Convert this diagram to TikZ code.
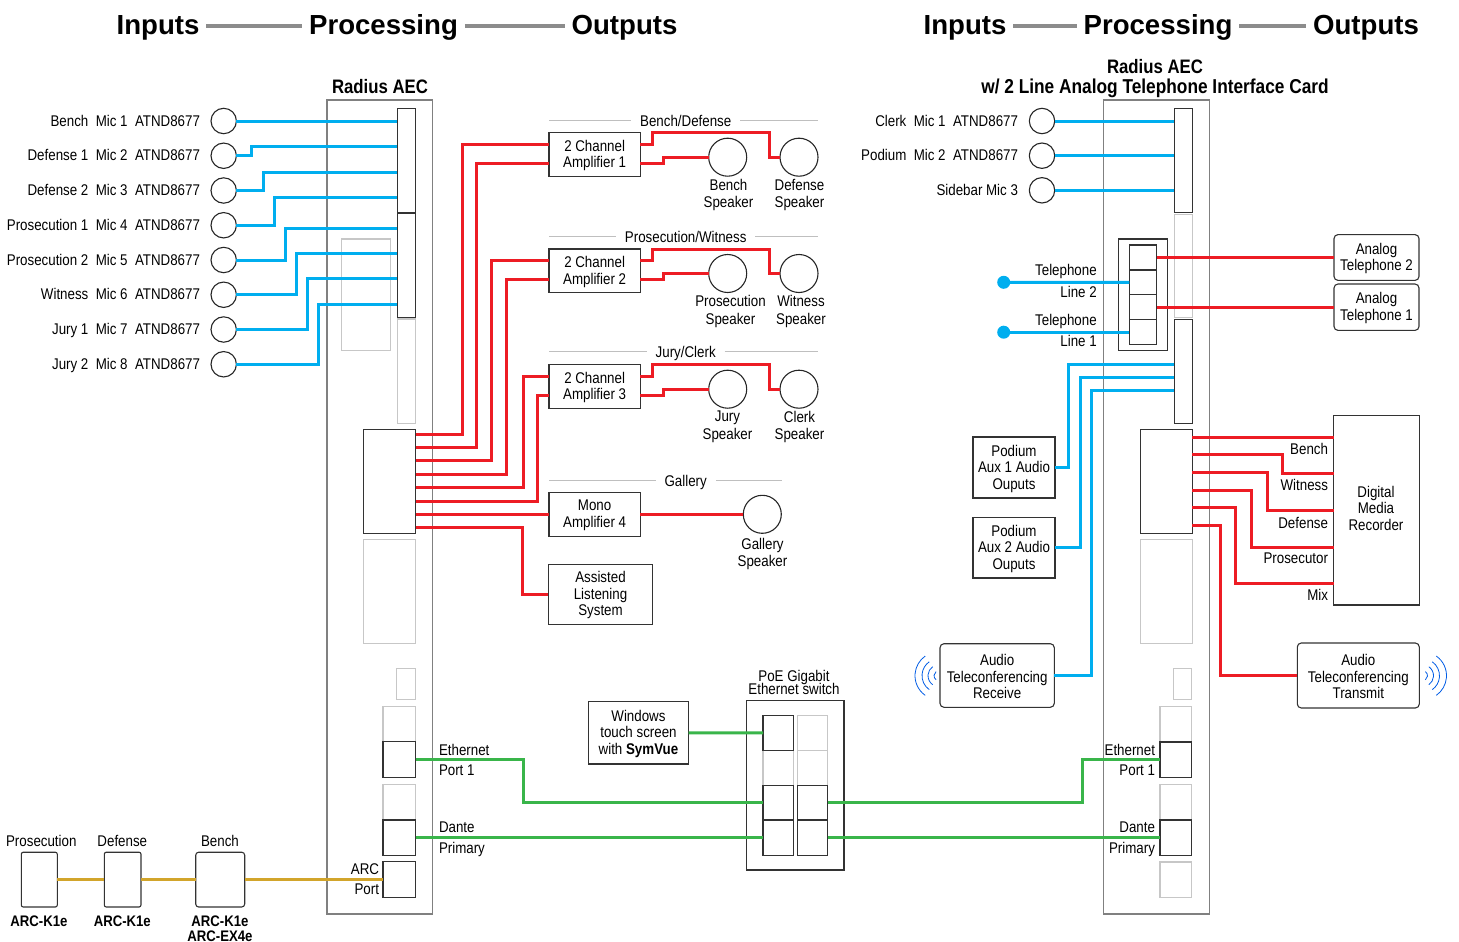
\documentclass[tikz,border=0pt]{standalone}
\usepackage{fontspec}
\setmainfont{Liberation Sans}[FakeStretch=0.86]
\newfontfamily\headfont{Liberation Sans}
\usetikzlibrary{fit}
\definecolor{wireblue}{HTML}{00AEEF}
\definecolor{wirered}{HTML}{ED1C24}
\definecolor{wiregreen}{HTML}{39B54A}
\definecolor{wiregold}{HTML}{D2A52B}
\tikzset{
	bluewire/.style={draw=wireblue,line width=3pt},
	redwire/.style={draw=wirered,line width=3pt},
	greenwire/.style={draw=wiregreen,line width=3pt},
	goldwire/.style={draw=wiregold,line width=3pt},
	blackbox/.style={draw=black!80,line width=1.1pt},
	graybox/.style={draw=black!22,line width=1.2pt},
	chassis/.style={draw=black!50,line width=1.4pt},
	roundbox/.style={blackbox,rounded corners=4pt},
	stack/.style={align=center,yshift=-1pt},
	micword/.style={anchor=east,text height=11pt,text depth=3pt},
	mic/.style={circle,draw=black!85,line width=1.1pt,minimum size=25.4pt},
	speaker/.style={circle,draw=black!85,line width=1.1pt,minimum size=38pt},
	speakerlabel/.style={align=center,font=\fontsize{15.5}{17.5}\selectfont},
	boldlabel/.style={align=center,font=\fontsize{15.3}{15.5}\selectfont\bfseries},
	unitlabel/.style={align=center,font=\fontsize{19.5}{20}\selectfont\bfseries},
	headword/.style={font=\fontsize{27.6}{28}\selectfont\headfont\bfseries,text height=20pt,text depth=3pt,outer sep=7pt},
	headline/.style={draw=black!45,line width=3.2pt},
	grouptitle/.style={text height=12pt,text depth=0pt,outer sep=9pt},
	grouprule/.style={draw=black!25,line width=1pt},
	wave/.style={draw=blue!60!cyan!90!black,line width=.8pt},
}
\begin{document}
\begin{tikzpicture}[x=1pt,y=-1pt,every node/.style={font=\fontsize{15.5}{16.5}\selectfont,inner sep=0pt,outer sep=0pt}]
	\useasboundingbox (0,0) rectangle (1459,942);
	% headings
	\node[headword] (hInL) at (158,26) {Inputs};
	\node[headword] (hPrL) at (383.5,26) {Processing};
	\node[headword] (hOutL) at (624.5,26) {Outputs};
	\node[headword] (hInR) at (965,26) {Inputs};
	\node[headword] (hPrR) at (1158,26) {Processing};
	\node[headword] (hOutR) at (1366,26) {Outputs};
	\draw[headline] (hInL) -- (hPrL);
	\draw[headline] (hPrL) -- (hOutL);
	\draw[headline] (hInR) -- (hPrR);
	\draw[headline] (hPrR) -- (hOutR);
	\node[unitlabel] (unitL) at (380,87) {Radius AEC};
	\node[unitlabel] (unitR) at (1155,79) {Radius AEC\\{\fontsize{20.1}{20}\selectfont w/ 2 Line Analog Telephone Interface Card}};

	% left chassis and its blocks
	\node[chassis,fit={(327,100) (432.5,914)}] (aecL) {};
	\node[graybox,fit={(341.7,239) (390.7,350.7)}] (dspL) {};
	\node[graybox,fit={(397.3,319) (415.7,423.3)}] (inCL) {};
	\node[graybox,fit={(363.3,539.3) (415.7,643.3)}] (outBL) {};
	\node[graybox,fit={(396.5,668.3) (415.5,699.3)}] (usbL) {};
	\node[graybox,fit={(383,706.7) (415.5,741.7)}] (eth2L) {};
	\node[graybox,fit={(383,784.3) (415.5,820)}] (dante2L) {};
	\node[blackbox,fit={(397.3,108.3) (415.7,212.3)}] (inAL) {};
	\node[blackbox,fit={(397.3,213.7) (415.7,317.7)}] (inBL) {};
	\node[blackbox,fit={(363.3,429.3) (415.7,533.3)}] (outAL) {};
	\node[blackbox,fit={(383,741.7) (415.5,777.3)}] (ethL) {};
	\node[blackbox,fit={(383,820) (415.5,855.3)}] (danteL) {};
	\node[blackbox,fit={(383,861.7) (415.5,897.5)}] (arcPort) {};
	\node[anchor=west] (lblEthL) at (439,750) {Ethernet};
	\node[anchor=west] (lblPortL) at (439,770) {Port 1};
	\node[anchor=west] (lblDanteL) at (439,827) {Dante};
	\node[anchor=west] (lblPrimL) at (439,849) {Primary};
	\node[anchor=east] (lblArc) at (379,869) {ARC};
	\node[anchor=east] (lblArcP) at (379,889) {Port};

	% microphones, left
	\foreach \i/\who/\py in {1/Bench/121,2/Defense 1/146.7,3/Defense 2/172.3,4/Prosecution 1/197.7,5/Prosecution 2/228,6/Witness/253.3,7/Jury 1/278.7,8/Jury 2/304.3}{
		\coordinate (pinL\i) at (397.3,\py);
		\node[mic] (micL\i) at (223.7,121+34.75*\i-34.75) {};
		\node[micword] (micT\i) at (200,122+34.75*\i-34.75) {\who~~Mic \i~~ATND8677};
	}
	\draw[bluewire] (micL1.east) -- (pinL1);
	\foreach \i/\vx in {2/251.7,3/263,4/274,5/285.7,6/296.7,7/307.3,8/318}
		\draw[bluewire] (micL\i.east) -- (\vx,0 |- micL\i) |- (pinL\i);

	% amplifier groups
	\node[grouptitle] (grpA) at (685.7,120.7) {Bench/Defense};
	\node[grouptitle] (grpB) at (685.7,236.3) {Prosecution/Witness};
	\node[grouptitle] (grpC) at (685.7,351.3) {Jury/Clerk};
	\node[grouptitle] (grpD) at (685.7,480.7) {Gallery};
	\foreach \g/\rx in {grpA/817.7,grpB/817.7,grpC/817.7,grpD/781.7}{
		\draw[grouprule] (549,0 |- \g) -- (\g.west);
		\draw[grouprule] (\g.east) -- (\rx,0 |- \g);
	}
	\foreach \n/\t/\sa/\sb/\xa/\xb in {1/132.7/Bench/Defense/728.5/799.5,2/249/Prosecution/Witness/730.5/801,3/364.7/Jury/Clerk/727.5/799.5}{
		\node[blackbox,fit={(549,\t) (640.3,\t+43.7)}] (amp\n) {};
		\node[stack] (ampT\n) at (amp\n) {2 Channel\\Amplifier \n};
		\coordinate (ampIa\n) at (549,\t+11.8);
		\coordinate (ampIb\n) at (549,\t+30.5);
		\coordinate (ampOa\n) at (640.3,\t+11.8);
		\coordinate (ampOb\n) at (640.3,\t+30.5);
		\node[speaker] (spkA\n) at (727.7,\t+24.5) {};
		\node[speaker] (spkB\n) at (799,\t+24.5) {};
		\node[speakerlabel] (spkTa\n) at (\xa,\t+62.3) {\sa\\Speaker};
		\node[speakerlabel] (spkTb\n) at (\xb,\t+62.3) {\sb\\Speaker};
		\draw[redwire] (ampOa\n) -- (652.3,\t+11.8) -- (652.3,\t) -- (769.7,\t) |- (spkB\n.west);
		\draw[redwire] (ampOb\n) -- (663.7,\t+30.5) |- (spkA\n.west);
	}
	\node[blackbox,fit={(549,492.3) (640.3,536.3)}] (mono) {};
	\node[stack] (monoT) at (mono) {Mono\\Amplifier 4};
	\node[speaker] (spkG) at (762.3,514.3) {};
	\node[speakerlabel] (spkTg) at (762.5,554) {Gallery\\Speaker};
	\node[blackbox,fit={(548.3,564.3) (652.7,624.3)}] (als) {};
	\node[stack] (alsT) at (als) {Assisted\\Listening\\System};
	\foreach \i/\py in {1/434.3,2/447.6,3/460.9,4/474.3,5/487.6,6/501,7/514.3,8/527.3}
		\coordinate (outL\i) at (415.7,\py);
	\foreach \i/\vx/\dest in {1/462.7/ampIa1,2/476/ampIb1,3/491.3/ampIa2,4/506.7/ampIb2,5/523/ampIa3,6/537.7/ampIb3}
		\draw[redwire] (outL\i) -- (\vx,0 |- outL\i) |- (\dest);
	\draw[redwire] (outL7) -- (mono.west);
	\draw[redwire] (mono.east) -- (spkG.west);
	\draw[redwire] (outL8) -- (522.7,0 |- outL8) |- (als.west);

	% network
	\node[blackbox,fit={(588.3,701.7) (688.6,764)}] (touch) {};
	\node[stack] (touchT) at (touch) {Windows\\touch screen\\with \textbf{SymVue}};
	\node[blackbox,fit={(746.9,700.7) (844,870)}] (switch) {};
	\node[stack] (lblSwitch) at (794,681.5) {PoE Gigabit\\[-3pt]Ethernet switch};
	\node[graybox,fit={(797.2,715.3) (827.6,750.3)}] (sw21) {};
	\node[graybox,fit={(797.2,750.3) (827.6,785.3)}] (sw22) {};
	\node[graybox,fit={(763,750.3) (793.5,785.3)}] (sw12) {};
	\node[blackbox,fit={(763,715.3) (793.5,750.3)}] (sw11) {};
	\node[blackbox,fit={(763,785.3) (793.5,820)}] (sw13) {};
	\node[blackbox,fit={(763,820) (793.5,855.3)}] (sw14) {};
	\node[blackbox,fit={(797.2,785.3) (827.6,820)}] (sw23) {};
	\node[blackbox,fit={(797.2,820) (827.6,855.3)}] (sw24) {};

	% right chassis and its blocks
	\node[chassis,fit={(1103.7,100) (1209.3,914)}] (aecR) {};
	\node[graybox,fit={(1174.3,214.3) (1192.3,317.7)}] (inBR) {};
	\node[graybox,fit={(1140.3,539.3) (1192.3,643.3)}] (outBR) {};
	\node[graybox,fit={(1173.7,668.3) (1191.7,699.3)}] (usbR) {};
	\node[graybox,fit={(1160,706.7) (1191.7,742)}] (eth2R) {};
	\node[graybox,fit={(1160,784.3) (1191.7,820)}] (dante2R) {};
	\node[graybox,fit={(1160,862) (1191.7,897.3)}] (extraR) {};
	\node[blackbox,fit={(1174.3,108.3) (1192.3,212.3)}] (inAR) {};
	\node[blackbox,fit={(1174.3,319.3) (1192.3,423.3)}] (inCR) {};
	\node[blackbox,fit={(1140.3,429.3) (1192.3,533.3)}] (outAR) {};
	\node[blackbox,fit={(1160,742) (1191.7,777.3)}] (ethR) {};
	\node[blackbox,fit={(1160,820) (1191.7,855.3)}] (danteR) {};
	\node[anchor=east] (lblEthR) at (1155,750) {Ethernet};
	\node[anchor=east] (lblPortR) at (1155,770) {Port 1};
	\node[anchor=east] (lblDanteR) at (1155,827) {Dante};
	\node[anchor=east] (lblPrimR) at (1155,849) {Primary};

	\draw[greenwire] (touch.east) -- (sw11.west);
	\draw[greenwire] (ethL.east) -- (523,0 |- ethL) |- (sw13.west);
	\draw[greenwire] (danteL.east) -- (sw14.west);
	\draw[greenwire] (sw23.east) -- (1082.3,0 |- sw23) |- (ethR.west);
	\draw[greenwire] (sw24.east) -- (danteR.west);

	% microphones, right
	\foreach \i/\py/\txt in {1/121/Clerk~~Mic 1~~ATND8677,2/155.7/Podium~~Mic 2~~ATND8677,3/190.3/Sidebar Mic 3}{
		\node[mic] (micR\i) at (1042,\py) {};
		\node[micword] (micTR\i) at (1018,\py+1) {\txt};
		\draw[bluewire] (micR\i.east) -- (inAR.west |- micR\i);
	}

	% telephone card
	\node[blackbox,fit={(1118.3,239) (1167.3,350.7)}] (telCard) {};
	\node[blackbox,fit={(1129.3,245) (1156.7,270)}] (tel1) {};
	\node[blackbox,fit={(1129.3,270) (1156.7,294.7)}] (tel2) {};
	\node[blackbox,fit={(1129.3,294.7) (1156.7,319.7)}] (tel3) {};
	\node[blackbox,fit={(1129.3,319.7) (1156.7,344.7)}] (tel4) {};
	\node[roundbox,fit={(1334,234.6) (1419,280.4)}] (phone2) {};
	\node[stack] (phoneT2) at (phone2) {Analog\\Telephone 2};
	\node[roundbox,fit={(1334,284) (1419,330.4)}] (phone1) {};
	\node[stack] (phoneT1) at (phone1) {Analog\\Telephone 1};
	\draw[redwire] (tel1.east) -- (phone2.west);
	\draw[redwire] (tel3.east) -- (phone1.west);
	\node[circle,fill=wireblue,minimum size=13pt] (dot2) at (1003.7,282.3) {};
	\node[circle,fill=wireblue,minimum size=13pt] (dot1) at (1003.7,332.2) {};
	\draw[bluewire] (dot2) -- (tel2.west);
	\draw[bluewire] (dot1) -- (tel4.west);
	\node[anchor=east] (lblTel2) at (1096.7,271) {Telephone};
	\node[anchor=east] (lblLine2) at (1096.7,291.5) {Line 2};
	\node[anchor=east] (lblTel1) at (1096.7,321) {Telephone};
	\node[anchor=east] (lblLine1) at (1096.7,341) {Line 1};

	% inputs from sources, right
	\node[blackbox,fit={(973,437) (1055,498)}] (aux1) {};
	\node[stack] (auxT1) at (aux1) {Podium\\Aux 1 Audio\\Ouputs};
	\node[blackbox,fit={(973,517.5) (1055,578)}] (aux2) {};
	\node[stack] (auxT2) at (aux2) {Podium\\Aux 2 Audio\\Ouputs};
	\node[roundbox,fit={(940,643.7) (1054.3,707.3)}] (confRx) {};
	\node[stack] (confTr) at (confRx) {Audio\\Teleconferencing\\Receive};
	\coordinate (pinR1) at (1174.3,364);
	\coordinate (pinR2) at (1174.3,377.3);
	\coordinate (pinR3) at (1174.3,390.3);
	\draw[bluewire] (aux1.east) -- (1068.7,0 |- aux1) |- (pinR1);
	\draw[bluewire] (aux2.east) -- (1080.3,0 |- aux2) |- (pinR2);
	\draw[bluewire] (confRx.east) -- (1091.5,0 |- confRx) |- (pinR3);

	% recorder
	\node[blackbox,fit={(1333.7,415.7) (1419.3,605)}] (recorder) {};
	\node[stack] (lblRec) at (1376,507) {Digital\\Media\\Recorder};
	\node[roundbox,fit={(1297.3,643) (1419.3,708)}] (confTx) {};
	\node[stack] (confTt) at (confTx) {Audio\\Teleconferencing\\Transmit};
	\foreach \i/\py in {1/437.3,2/454.7,3/472.3,4/490,5/507.7,6/525.3}
		\coordinate (outR\i) at (1192.3,\py);
	\foreach \i/\py in {2/473.7,3/510.3,4/547,5/583.7}
		\coordinate (recIn\i) at (1333.7,\py);
	\draw[redwire] (outR1) -- (recorder.west |- outR1);
	\foreach \i/\vx in {2/1282.3,3/1267,4/1251.7,5/1235.7}
		\draw[redwire] (outR\i) -- (\vx,0 |- outR\i) |- (recIn\i);
	\draw[redwire] (outR6) -- (1220,0 |- outR6) |- (confTx.west);
	\foreach \t/\py/\n in {Bench/449/1,Witness/484.5/2,Defense/522.5/3,Prosecutor/558.5/4,Mix/595/5}
		\node[anchor=east] (lblRec\n) at (1328,\py) {\t};

	% audio waves
	\foreach \r in {5,11,17,24}{
		\draw[wave] (1422.5,675.7) ++(-55:\r) arc (-55:55:\r);
		\draw[wave] (939,675.7) ++(125:\r) arc (125:235:\r);
	}

	% ARC wall stations
	\node[roundbox,fit={(21.3,852.2) (57.3,907)},rounded corners=2pt] (arc1) {};
	\node[roundbox,fit={(104.3,852.2) (141,907)},rounded corners=2pt] (arc2) {};
	\node[roundbox,fit={(195.7,852.2) (244.7,907)},rounded corners=3pt] (arc3) {};
	\draw[goldwire] (arc1.east) -- (arc2.west);
	\draw[goldwire] (arc2.east) -- (arc3.west);
	\draw[goldwire] (arc3.east) -- (arcPort.west);
	\node (lblArc1) at (41.3,840.7) {Prosecution};
	\node (lblArc2) at (122.3,840.7) {Defense};
	\node (lblArc3) at (220,840.7) {Bench};
	\node[boldlabel] (lblK1) at (39,921) {ARC-K1e};
	\node[boldlabel] (lblK2) at (122.3,921) {ARC-K1e};
	\node[boldlabel] (lblK3) at (220,928.5) {ARC-K1e\\ARC-EX4e};
\end{tikzpicture}
\end{document}
